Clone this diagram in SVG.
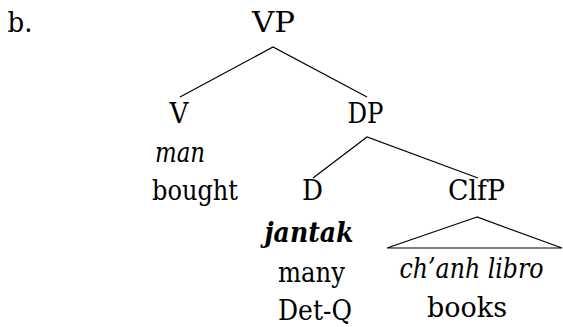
<svg xmlns="http://www.w3.org/2000/svg" width="563" height="327" viewBox="0 0 563 327">
  <style>
    .it { font-style: italic; }
    .bi { font-style: italic; font-weight: bold; }
    .edge { stroke: #000; stroke-width: 1.2; fill: none; }
  </style>
  <rect width="563" height="327" fill="#fff"/>
  <g font-family="DejaVu Serif, Liberation Serif, serif" font-size="27.5" text-anchor="middle" fill="#000">
    <text x="20" y="32" textLength="25" lengthAdjust="spacingAndGlyphs">b.</text>

    <g id="connectors">
      <polyline class="edge" points="180,97 273,47 367,97"/>
      <polyline class="edge" points="313,178 367,137 478,178"/>
      <polygon class="edge" points="477,217 387,248 562,248"/>
    </g>

    <g id="vp"><text x="273.5" y="32" textLength="43" lengthAdjust="spacingAndGlyphs">VP</text></g>
    <g id="v">
      <text x="179" y="123" textLength="19" lengthAdjust="spacingAndGlyphs">V</text>
      <text class="it" x="180" y="162" textLength="50" lengthAdjust="spacingAndGlyphs">man</text>
      <text x="195" y="200" textLength="86" lengthAdjust="spacingAndGlyphs">bought</text>
    </g>
    <g id="dp"><text x="365.5" y="123" textLength="36" lengthAdjust="spacingAndGlyphs">DP</text></g>
    <g id="d">
      <text x="312.5" y="200" textLength="21" lengthAdjust="spacingAndGlyphs">D</text>
      <text class="bi" x="309" y="242" textLength="89" lengthAdjust="spacingAndGlyphs">jantak</text>
      <text x="311.5" y="282" textLength="67" lengthAdjust="spacingAndGlyphs">many</text>
      <text x="315" y="320" textLength="74" lengthAdjust="spacingAndGlyphs">Det-Q</text>
    </g>
    <g id="clfp">
      <text x="476.5" y="200" textLength="57" lengthAdjust="spacingAndGlyphs">ClfP</text>
      <text class="it" x="471.5" y="278" textLength="144" lengthAdjust="spacingAndGlyphs">ch’anh libro</text>
      <text x="467" y="317" textLength="80" lengthAdjust="spacingAndGlyphs">books</text>
    </g>
  </g>
</svg>
